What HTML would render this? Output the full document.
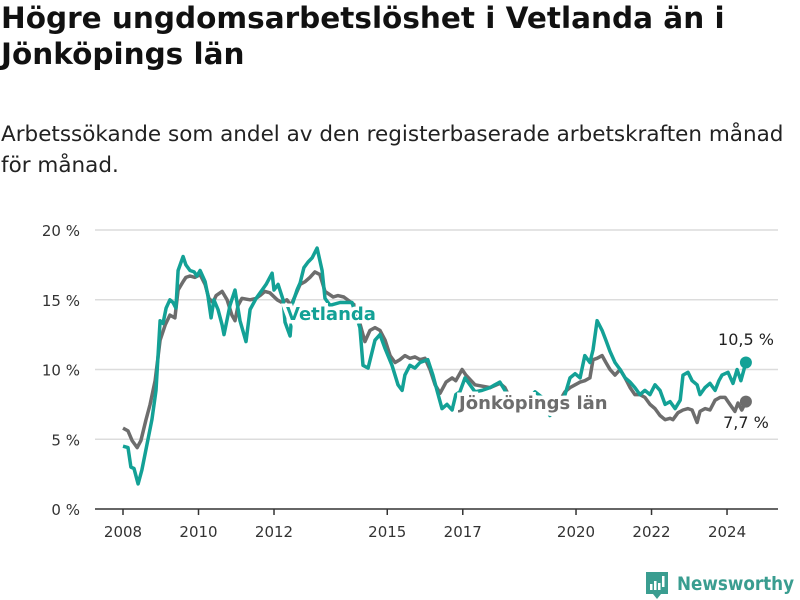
<!DOCTYPE html>
<html><head><meta charset="utf-8"><style>
body{margin:0;background:#fff;width:800px;height:600px;overflow:hidden;font-family:"DejaVu Sans","Liberation Sans",sans-serif}
h1{position:absolute;left:1px;top:0;margin:0;font-size:29.5px;line-height:36px;font-weight:bold;color:#111;white-space:nowrap}
p{position:absolute;left:1px;top:119px;margin:0;font-size:21.5px;line-height:31px;color:#222;white-space:nowrap}
svg{position:absolute;left:0;top:0}
</style></head><body>
<h1>Högre ungdomsarbetslöshet i Vetlanda än i<br>Jönköpings län</h1>
<p>Arbetssökande som andel av den registerbaserade arbetskraften månad<br>för månad.</p>
<svg id="chart" width="800" height="600"></svg>
<script>
const yTicks=[0,5,10,15,20];
const yTickLabels=["0 %","5 %","10 %","15 %","20 %"];
const xTickYears=[2008,2010,2012,2015,2017,2020,2022,2024];
// months since Jan 2008
const vetMonths=[0,1.6,2.5,3.5,4.8,6,7.6,9.2,10.5,11.8,12.7,13.7,14.9,15.9,16.8,17.5,19.1,20,21.3,22.6,23.5,24.5,26.1,27,28,28.9,30.2,31.5,32.1,34,35.6,37.2,39.1,40.4,42.3,44.2,45.5,47.4,48,49.3,50.9,51.5,53.1,54,55.3,56.3,57.5,58.8,60.1,61.7,63.3,64.2,65.8,69,72.8,75.3,76.3,77.9,80.1,81.7,83.3,85.5,87.4,88.7,89.6,91.2,92.8,94.4,96.9,98.5,99.8,101.4,103,104.6,105.8,107.1,108.7,110.3,111.9,114.1,116.7,118.2,119.8,121.4,123,124.6,126.2,128.7,131,133.2,135.7,138,140.5,142.1,143.7,145.3,146.8,148.4,149.4,150.7,152.3,153.5,154.8,156.4,158,159.6,161.2,162.7,164.3,165.9,167.5,169.1,170.7,172.3,173.9,175.5,177.1,178,179.6,180.9,182.5,183.4,185,186.6,188.2,189.4,190.4,192.3,193.9,195.2,196.4,198];
const vetValues=[4.5,4.4,3.0,2.9,1.8,2.8,4.6,6.4,8.5,13.5,13.3,14.4,15.0,14.8,14.4,17.1,18.1,17.5,17.1,17.0,16.7,17.1,16.3,15.3,13.7,15.0,14.3,13.2,12.5,14.6,15.7,13.5,12.0,14.3,15.1,15.7,16.1,16.9,15.7,16.1,15.0,13.4,12.4,14.8,15.7,16.2,17.3,17.7,18.0,18.7,17.1,15.1,14.6,14.8,14.8,13.0,10.3,10.1,12.1,12.5,11.5,10.3,8.9,8.5,9.6,10.3,10.1,10.5,10.7,9.6,8.5,7.2,7.5,7.1,8.2,8.4,9.4,8.9,8.4,8.5,8.7,8.9,9.1,8.5,7.8,7.0,7.1,7.8,8.4,8.0,6.7,7.3,8.2,9.4,9.7,9.4,11.0,10.5,11.4,13.5,12.8,12.1,11.3,10.5,10.0,9.4,9.1,8.7,8.2,8.5,8.2,8.9,8.5,7.5,7.7,7.2,7.8,9.6,9.8,9.2,8.9,8.2,8.7,9.0,8.5,9.2,9.6,9.8,9.0,10.0,9.2,10.5];
const jkpMonths=[0,1.6,2.9,4.5,5.7,7.3,8.6,10.2,11.8,13.4,14.9,16.5,17.5,19.1,20,21.3,22.9,24.5,26.1,27.3,28.6,29.6,31.5,33.1,34.6,35.6,36.6,37.8,40.4,42.3,43.5,45.1,46.7,49,50.5,52.1,53.4,56.3,57.9,59.4,61,62.6,64.2,66.8,68.3,70.2,73.7,76.9,78.5,80.1,81.7,83.3,84.9,86.5,88,89.6,91.2,92.8,94.4,96,97.6,99.2,100.8,102.7,104.6,105.8,107.8,109,111.9,116.7,119.8,121.4,123.6,126.2,129.4,132.5,136.7,138.9,140.5,142.1,143.7,145.3,146.8,148.4,149.4,150.7,152.3,153.5,154.8,156.4,158,159.6,161.2,162.7,164.3,165.9,167.5,169.1,170.7,172.3,173.9,174.8,176.4,178,179.6,180.9,182.5,183.4,185,186.6,188.2,189.8,191.4,192.9,194.5,195.5,196.7,198];
const jkpValues=[5.8,5.6,4.9,4.4,4.9,6.4,7.5,9.2,12.1,13.2,13.9,13.7,15.7,16.3,16.6,16.7,16.6,16.8,16.1,15.1,14.8,15.3,15.6,15.0,13.9,13.5,14.6,15.1,15.0,15.1,15.3,15.6,15.5,15.0,14.8,15.0,14.6,16.1,16.3,16.6,17.0,16.8,15.6,15.2,15.3,15.2,14.6,12.0,12.8,13.0,12.8,12.1,11.0,10.5,10.7,11.0,10.8,10.9,10.7,10.8,10.0,8.9,8.3,9.1,9.4,9.2,10.0,9.6,8.9,8.7,9.0,8.7,7.7,7.2,7.5,7.1,7.1,7.8,8.4,8.7,8.9,9.1,9.2,9.4,10.7,10.8,11.0,10.5,10.0,9.6,10.0,9.4,8.7,8.2,8.2,8.0,7.5,7.2,6.7,6.4,6.5,6.4,6.9,7.1,7.2,7.1,6.2,7.0,7.2,7.1,7.8,8.0,8.0,7.5,7.0,7.6,7.1,7.7];

const NS="http://www.w3.org/2000/svg";
const svg=document.getElementById('chart');
const xS=m=>123+m*3.146;
const yS=v=>509-v*13.95;
function mk(t,a){const e=document.createElementNS(NS,t);for(const k in a)e.setAttribute(k,a[k]);svg.appendChild(e);return e;}
yTicks.forEach((v,i)=>{
  if(v>0){const g=mk('line',{x1:95,x2:778,y1:yS(v),y2:yS(v),stroke:'#dcdcdc','stroke-width':1.5});
  
  }
  const t=mk('text',{x:80,y:yS(v)+6,'text-anchor':'end','font-size':15,fill:'#333'});
  t.textContent=yTickLabels[i];
  
  
});
const ax=mk('line',{x1:95,x2:778,y1:509,y2:509,stroke:'#333','stroke-width':1.5});


xTickYears.forEach(yr=>{
  const x=xS((yr-2008)*12);
  const tk=mk('line',{x1:x,x2:x,y1:509,y2:515,stroke:'#333','stroke-width':1.5});
  
  
  const t=mk('text',{x:x,y:537,'text-anchor':'middle','font-size':15,fill:'#333'});
  t.textContent=yr;
  
  
});
function line(ms,vs,col,name){
  const d=ms.map((m,i)=>(i?'L':'M')+xS(m).toFixed(1)+','+yS(vs[i]).toFixed(1)).join('');
  const p=mk('path',{d:d,fill:'none',stroke:col,'stroke-width':3.5,'stroke-linejoin':'round'});
  
  
  const n=ms.length-1;
  const c=mk('circle',{cx:xS(ms[n]),cy:yS(vs[n]),r:6,fill:col});
  
  
}
line(jkpMonths,jkpValues,'#6d6d6d','jonkoping-line');
line(vetMonths,vetValues,'#13a196','vetlanda-line');
function lab(x,y,txt,col,name,bold,anchor){
  const t=mk('text',{x:x,y:y,'font-size':bold?18:16,'font-weight':bold?'bold':'normal',fill:col,stroke:'#fff','stroke-width':bold?7:0,'paint-order':'stroke','text-anchor':anchor||'start'});
  t.textContent=txt;
  
  
}
lab(286,320,'Vetlanda','#13a196','vetlanda-label',true);
lab(459,409,'Jönköpings län','#6d6d6d','jonkoping-label',true);
lab(746,345,'10,5 %','#222','vetlanda-last-value',false,'middle');
lab(746,428,'7,7 %','#222','jonkoping-last-value',false,'middle');
</script>
<svg width="800" height="600" style="pointer-events:none">
  <path d="M646 572h22v22h-7l-4 5-4-5h-7z" fill="#3a9d90"/>
  <rect x="650" y="584" width="2.5" height="6" fill="#fff"/><rect x="654" y="581" width="2.5" height="9" fill="#fff"/><rect x="658" y="583" width="2.5" height="7" fill="#fff"/><rect x="662" y="576" width="2.5" height="11" fill="#fff"/>
  <text x="677" y="590" font-size="19" font-weight="bold" fill="#3a9d90" font-family="DejaVu Sans,sans-serif" textLength="117" lengthAdjust="spacingAndGlyphs">Newsworthy</text>
</svg>
</body></html>
